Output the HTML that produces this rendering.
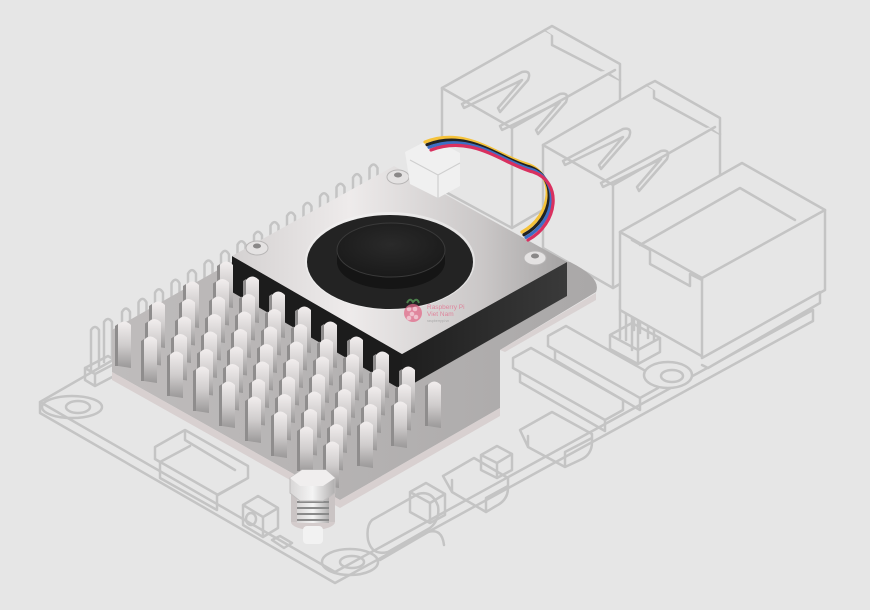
<!DOCTYPE html>
<html><head><meta charset="utf-8">
<style>
html,body{margin:0;padding:0;background:#e6e6e6;}
svg{display:block}
</style></head>
<body>
<svg id="s" width="870" height="610" viewBox="0 0 870 610" xmlns="http://www.w3.org/2000/svg">
<defs>
<linearGradient id="fin" x1="0" y1="0" x2="0" y2="1">
<stop offset="0" stop-color="#f2eeee"/><stop offset="0.5" stop-color="#d0cdcd"/><stop offset="1" stop-color="#9a9898"/>
</linearGradient>
<linearGradient id="top" x1="0" y1="0" x2="1" y2="0">
<stop offset="0" stop-color="#d4d1d1"/><stop offset="0.35" stop-color="#eeebeb"/><stop offset="0.75" stop-color="#cac7c7"/><stop offset="1" stop-color="#a4a2a2"/>
</linearGradient>
<linearGradient id="dark" x1="0" y1="0" x2="1" y2="0">
<stop offset="0" stop-color="#1e1e1e"/><stop offset="1" stop-color="#3a3a3a"/>
</linearGradient>
<linearGradient id="plate" x1="0" y1="0" x2="1" y2="0">
<stop offset="0" stop-color="#bfbcbc"/><stop offset="1" stop-color="#aaa8a8"/>
</linearGradient>
<radialGradient id="hub" cx="0.5" cy="0.4" r="0.6">
<stop offset="0" stop-color="#2a2a2a"/><stop offset="1" stop-color="#1a1a1a"/>
</radialGradient>
<linearGradient id="bolt" x1="0" y1="0" x2="1" y2="0">
<stop offset="0" stop-color="#d8d6d6"/><stop offset="0.5" stop-color="#f4f4f4"/><stop offset="1" stop-color="#b0aeae"/>
</linearGradient>
</defs>

<g id="board" fill="none" stroke="#c4c4c4" stroke-width="2.5" stroke-linejoin="round" stroke-linecap="round">
<path d="M40,402 L335,572 L813,310 M40,402 L40,413 L335,583 L813,321 L813,310 M40,402 L165,330"/>
<ellipse cx="72" cy="407" rx="30" ry="11"/>
<ellipse cx="78" cy="407" rx="12" ry="6"/>
<path d="M85,380 L85,368 L108,356 L118,362 L118,374 L95,386 Z M95,386 L95,374 L85,368 M95,374 L118,362"/>
<path d="M91,370 L91,330 Q95,324 99,330 L99,366 M104,362 L104,322 Q108,316 112,322 L112,358"/>
<path d="M155,447 L185,430 L248,466 L248,478 L218,495 L155,459 Z M155,459 L160,462 L160,478 L217,510 L217,495 M217,495 L248,478 M160,462 L190,446 M185,430 L185,440 L235,470"/>
<path d="M243,505 L258,496 L278,508 L278,528 L263,537 L243,525 Z M243,505 L263,517 L278,508 M263,517 L263,537"/>
<ellipse cx="251" cy="519" rx="5" ry="6"/>
<path d="M272,540 L280,536 L292,543 L284,548 Z"/>
<ellipse cx="350" cy="562" rx="28" ry="13"/>
<ellipse cx="352" cy="562" rx="12" ry="6"/>
<path d="M372,520 L418,494 Q432,490 438,506 Q440,520 430,528 L388,552 Q372,556 368,540 Q366,526 372,520 Z"/>
<path d="M380,560 L428,532 Q442,528 444,545"/>
<path d="M410,492 L426,483 L445,494 L445,515 L430,523 L410,512 Z M410,492 L430,503 L445,494 M430,503 L430,523"/>
<path d="M443,476 L474,458 L508,478 L508,488 Q508,500 496,506 L486,512 L452,492 Z M452,492 L452,480 M486,512 L486,498 L508,486"/>
<path d="M481,455 L497,446 L512,454 L512,470 L497,478 L481,470 Z M481,455 L497,463 L512,454 M497,463 L497,478"/>
<path d="M520,430 L552,412 L592,434 L592,442 Q592,455 580,460 L565,467 L528,447 Z M528,447 L528,436 M565,467 L565,452 L592,438"/>
<path d="M513,358 L531,348 L623,400 L623,410 L605,420 L513,368 Z M513,368 L520,372 L520,382 L605,431 L605,420 M605,420 L623,410"/>
<path d="M548,336 L566,326 L658,378 L658,388 L640,398 L548,346 Z M548,346 L555,350 L555,360 L640,410 L640,398 M640,398 L658,388"/>
<ellipse cx="668" cy="375" rx="24" ry="13" fill="#e6e6e6"/>
<ellipse cx="672" cy="376" rx="11" ry="6"/>
<path d="M610,335 L632,323 L660,338 L660,352 L638,364 L610,349 Z M610,335 L638,350 L660,338 M638,350 L638,364"/>
<path d="M620,338 L620,300 Q623,294 626,300 L626,340 M634,330 L634,292 Q637,286 640,292 L640,333 M648,338 L648,300 Q651,294 654,300 L654,340 M632,350 L632,312 Q635,306 638,312 L638,350"/>
<g fill="#e6e6e6">
<path d="M442,88 L545,30 L552,34 L552,45 L620,80 L620,165 L512,228 L442,190 Z"/>
<path d="M442,88 L512,128 L615,70 M512,128 L512,228 M545,30 L552,26 L620,64 L620,80"/>
<path d="M462,104 L522,72 Q532,70 528,80 L500,112 L498,108 L522,80 L464,108 Z M500,126 L560,94 Q570,92 566,102 L538,134 L536,130 L560,102 L502,130 Z" fill="none"/>
<path d="M543,145 L647,85 L654,89 L654,98 L720,134 L720,225 L613,288 L543,248 Z"/>
<path d="M543,145 L613,185 L715,127 M613,185 L613,288 M647,85 L655,81 L720,118 L720,134"/>
<path d="M563,161 L623,129 Q633,127 629,137 L601,169 L599,165 L623,137 L565,165 Z M601,183 L661,151 Q671,149 667,159 L639,191 L637,187 L661,159 L603,187 Z" fill="none"/>
<path d="M620,232 L742,163 L825,210 L825,290 L705,358 L620,310 Z"/>
<path d="M620,232 L702,278 L825,210 M702,278 L702,358"/>
<path d="M632,240 L650,250 L650,264 L690,286 L690,274 L702,280 M640,245 L740,188 L795,220"/>
<path d="M702,358 L820,292 L820,303 L708,368 L702,365"/>
</g>
<g id="pins"></g>
</g>

<!-- heatsink plate -->
<path d="M112,330 L232,262 L570,262 Q602,278 596,292 L500,350 L500,408 L340,500 L112,372 Z" fill="url(#plate)"/>
<path d="M112,372 L340,500 L500,408 L500,416 L340,508 L112,380 Z" fill="#d8d0d0"/>
<path d="M500,350 L596,293 L596,300 L505,352 Z" fill="#d9d2d2"/>

<!-- fan block -->
<path d="M232,256 L402,354 L402,390 L232,292 Z" fill="#1c1c1c"/>
<path d="M402,354 L567,262 L567,296 L402,390 Z" fill="url(#dark)"/>
<path d="M232,256 L394,166 L567,262 L402,354 Z" fill="url(#top)"/>
<ellipse cx="390" cy="261" rx="85" ry="49" fill="#f2f2f2" opacity="0.6"/>
<ellipse cx="390" cy="262" rx="83" ry="47" fill="#232323"/>
<ellipse cx="391" cy="262" rx="54" ry="27" fill="#151515"/>
<rect x="337" y="250" width="108" height="14" fill="#151515"/>
<ellipse cx="391" cy="250" rx="54" ry="27" fill="url(#hub)" stroke="#3a3a3a" stroke-width="1"/>
<g fill="#e4e2e2" stroke="#b8b6b6" stroke-width="1">
<ellipse cx="257" cy="248" rx="11" ry="7"/>
<ellipse cx="398" cy="177" rx="11" ry="7"/>
<ellipse cx="535" cy="258" rx="11" ry="7"/>
</g>
<g fill="#8a8888">
<ellipse cx="257" cy="246" rx="4" ry="2.5"/><ellipse cx="398" cy="175" rx="4" ry="2.5"/><ellipse cx="535" cy="256" rx="4" ry="2.5"/>
</g>
<g opacity="0.75">
<path d="M407,303 q3,-6 6,-1 q4,-5 6,1" fill="none" stroke="#5aa05a" stroke-width="2"/>
<circle cx="413" cy="313" r="9" fill="#e26b8a"/>
<g fill="#f5b8c8"><circle cx="409" cy="309" r="2.3"/><circle cx="415" cy="309" r="2.3"/><circle cx="412" cy="314" r="2.3"/><circle cx="409" cy="318" r="2.3"/><circle cx="416" cy="317" r="2.3"/></g>
<text x="427" y="309" font-family="Liberation Sans, sans-serif" font-size="6.5" fill="#e26b8a">Raspberry Pi</text>
<text x="427" y="316" font-family="Liberation Sans, sans-serif" font-size="6.5" fill="#e26b8a">Viet Nam</text>
<text x="427" y="322" font-family="Liberation Sans, sans-serif" font-size="3.5" fill="#999">raspberrypi.vn</text>
</g>

<path d="M405,152 L432,138 L460,153 L460,186 L438,198 L410,184 Z" fill="#f0f0f0"/>
<path d="M410,160 L438,175 L460,163 M438,175 L438,198" fill="none" stroke="#cfcfcf" stroke-width="1.2"/>
<g fill="none" stroke-width="3.2" stroke-linecap="round">
<path d="M428,146 C470,130 500,160 530,168 C560,178 555,220 525,236" stroke="#f5c23a" transform="translate(-3,-4)"/>
<path d="M428,146 C470,130 500,160 530,168 C560,178 555,220 525,236" stroke="#222" transform="translate(-1,-1.3)"/>
<path d="M428,146 C470,130 500,160 530,168 C560,178 555,220 525,236" stroke="#3d6fc4" transform="translate(1,1.3)"/>
<path d="M428,146 C470,130 500,160 530,168 C560,178 555,220 525,236" stroke="#d9305f" transform="translate(3,4)"/>
</g>

<g id="finsFront"></g>

<ellipse cx="313" cy="522" rx="22" ry="8" fill="#d4cccc"/>
<rect x="291" y="490" width="44" height="32" fill="#cac4c4"/>
<rect x="297" y="495" width="32" height="28" fill="url(#bolt)"/>
<g stroke="#8a8a8a" stroke-width="2"><line x1="297" y1="502" x2="329" y2="502"/><line x1="297" y1="508" x2="329" y2="508"/><line x1="297" y1="514" x2="329" y2="514"/><line x1="297" y1="520" x2="329" y2="520"/></g>
<rect x="303" y="526" width="20" height="18" rx="4" fill="#f2f2f2"/>
<path d="M290,478 L302,470 L326,470 L335,478 L335,493 L323,501 L300,501 L290,493 Z" fill="url(#bolt)" stroke="#c0bebe" stroke-width="1"/>
<path d="M290,478 L302,470 L326,470 L335,478 L323,486 L300,486 Z" fill="#f0eeee"/>

<script>
(function(){
var NS="http://www.w3.org/2000/svg";
var pins=document.getElementById('pins');
for(var i=0;i<16;i++){
  var x=122+i*16.5, y=312-i*9.6;
  var p=document.createElementNS(NS,'path');
  p.setAttribute('d','M'+x+','+(y+20)+' L'+x+','+y+' Q'+(x+4)+','+(y-7)+' '+(x+8)+','+y+' L'+(x+8)+','+(y+18));
  pins.appendChild(p);
}
var front=document.getElementById('finsFront');
var list=[];
for(var b=0;b<7;b++){for(var a=0;a<9;a++){
  var sx=(b%2)?13:0, sy=(b%2)?7.5:0;
  var x=118+a*26+b*17+sx, y=322+a*15-b*10+sy;
  if(b%2 && a==8) continue;
  list.push({x:x,y:y,b:b});
}}
list.sort(function(p,q){return p.y-q.y;});
list.forEach(function(f){
  var g=front;
  var x=f.x,y=f.y;
  var s=document.createElementNS(NS,'path');
  s.setAttribute('d','M'+(x-3)+','+(y+4)+' L'+x+','+(y+2)+' L'+x+','+(y+44)+' L'+(x-3)+','+(y+44)+' Z');
  s.setAttribute('fill','#8f8d8d');
  g.appendChild(s);
  var p=document.createElementNS(NS,'path');
  p.setAttribute('d','M'+x+','+(y+3)+' Q'+(x+6)+','+(y-4)+' '+(x+13)+','+(y+3)+' L'+(x+13)+','+(y+46)+' L'+x+','+(y+44)+' Z');
  p.setAttribute('fill','url(#fin)');
  g.appendChild(p);
});
})();
</script>
</svg>
</body></html>
